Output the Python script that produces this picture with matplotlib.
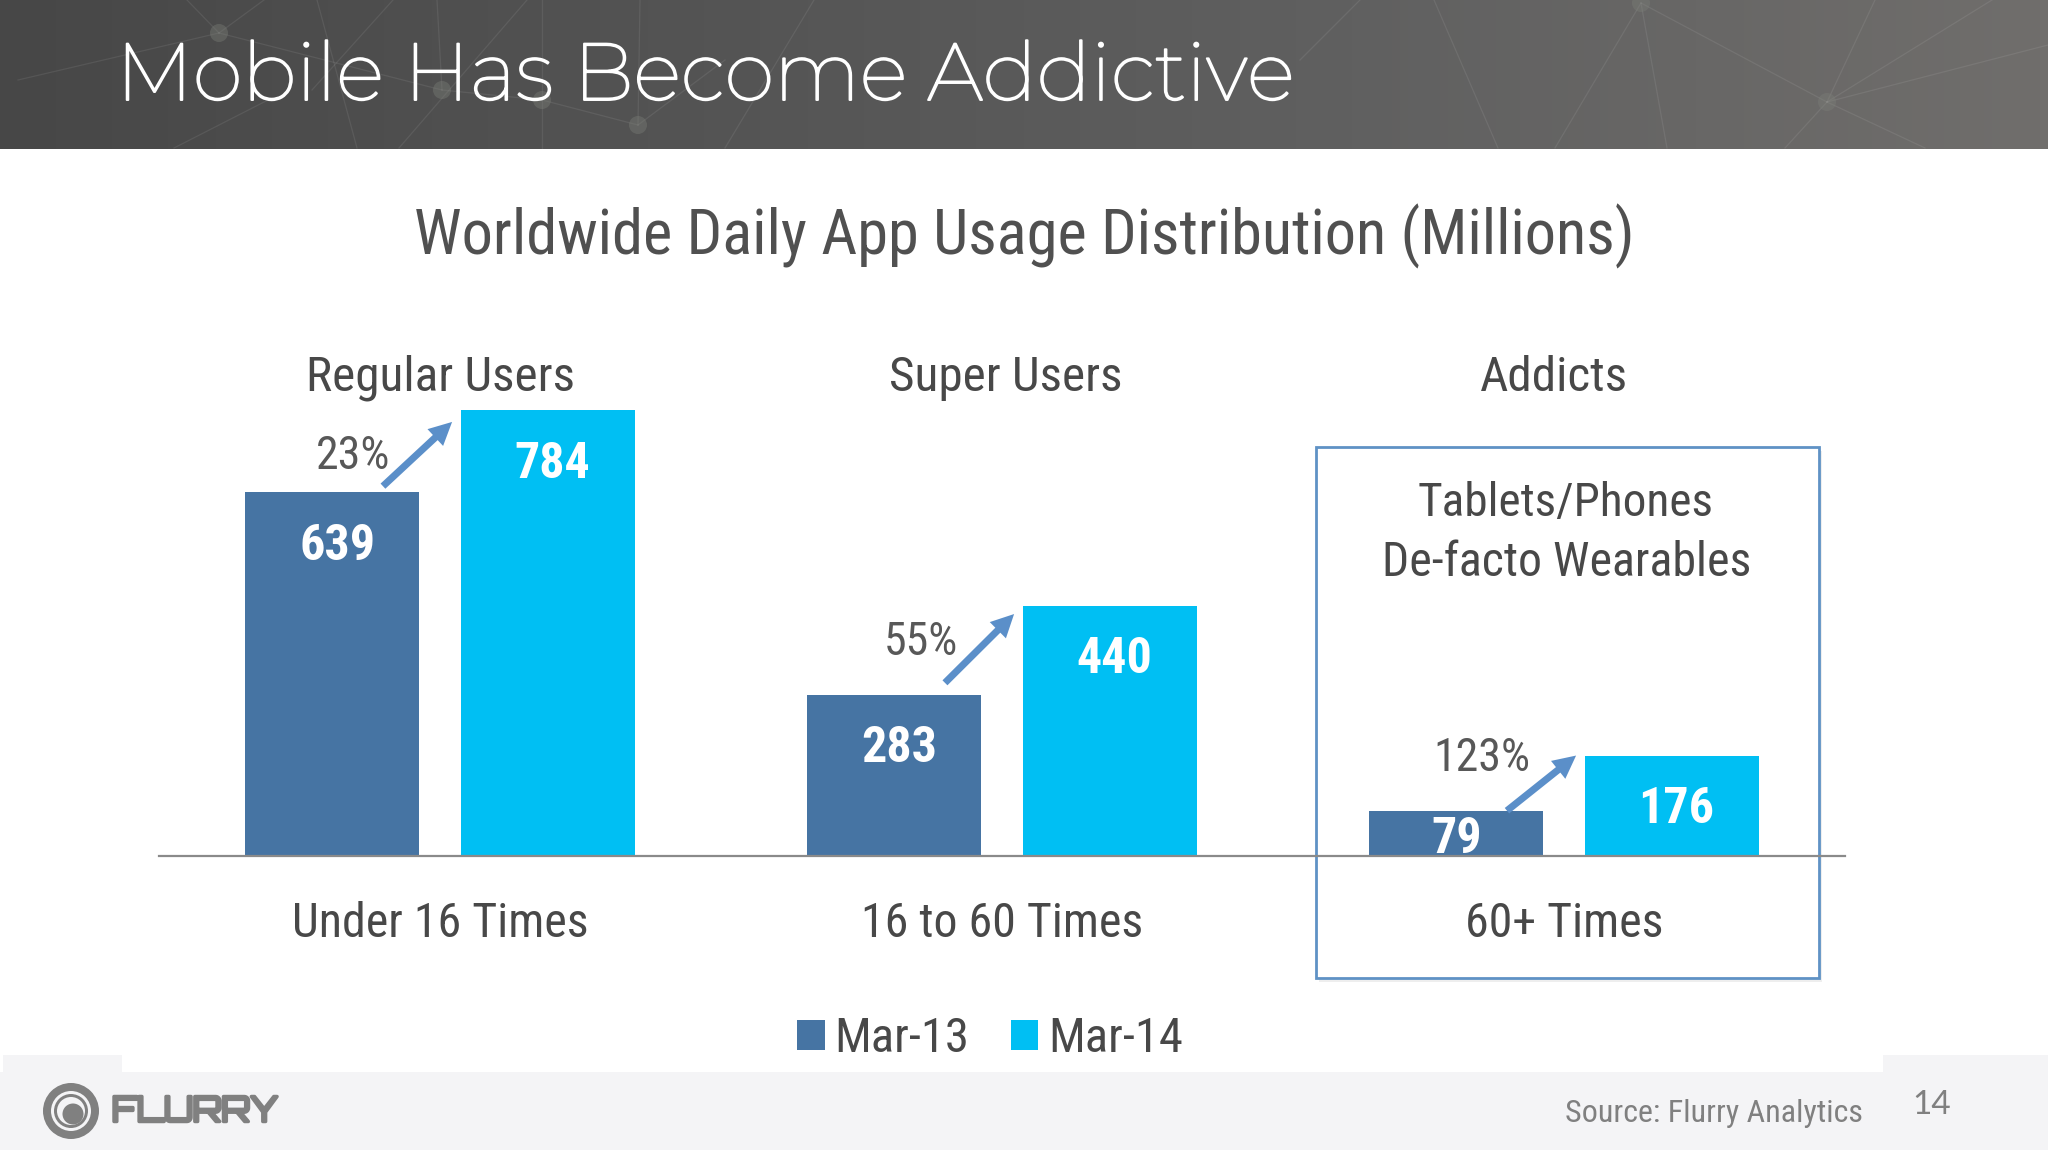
import numpy as np
import matplotlib
matplotlib.use('Agg')
import matplotlib.pyplot as plt
import matplotlib.patheffects as pe
from matplotlib.colors import LinearSegmentedColormap
from matplotlib.patches import Rectangle, Circle

# values in millions
categories = ['Under 16 Times', '16 to 60 Times', '60+ Times']
segments = ['Regular Users', 'Super Users', 'Addicts']
mar_13 = [639, 283, 79]
mar_14 = [784, 440, 176]
growth = ['23%', '55%', '123%']

W, H = 2048, 1152
NARROW = ['Roboto Condensed', 'Liberation Sans']
TITLE_FONT = ['Montserrat', 'Lato']
LOGO_FONT = ['Orbitron', 'DejaVu Sans']
DARK_BLUE = '#4674a3'
LIGHT_BLUE = '#00bff3'
ARROW_BLUE = '#5b8fc9'
TEXT = '#484848'

fig = plt.figure(figsize=(W / 100, H / 100), dpi=100, facecolor='white')

# page layer in pixel coordinates, for the slide furniture
page = fig.add_axes([0, 0, 1, 1])
grad = np.linspace(0, 1, 256).reshape(1, -1)
page.imshow(grad, extent=(0, W, 149, 0), aspect='auto', zorder=0,
            cmap=LinearSegmentedColormap.from_list('hdr', [(0, '#474747'), (0.66, '#606060'), (1, '#706e6c')]))
page.set_xlim(0, W)
page.set_ylim(H, 0)
page.axis('off')

# faint network pattern in the header
nodes = [(219, 33), (442, 90), (542, 100), (638, 125), (1641, 3), (1827, 102)]
links = [((219, 33), (442, 90)), ((442, 90), (542, 100)), ((542, 100), (638, 125)),
         ((219, 33), (264, 0)), ((219, 33), (187, 0)), ((219, 33), (18, 80)),
         ((437, 0), (442, 90)), ((542, 0), (542, 148)), ((640, 0), (638, 125)),
         ((527, 0), (399, 148)), ((317, 0), (357, 148)), ((393, 0), (312, 90)),
         ((268, 100), (174, 148)), ((814, 0), (725, 148)), ((638, 125), (725, 60)),
         ((1641, 3), (1827, 102)), ((1641, 3), (1555, 148)), ((1641, 3), (1667, 148)),
         ((1434, 0), (1498, 148)), ((1360, 0), (1300, 60)), ((1827, 102), (1875, 0)),
         ((1827, 102), (1992, 0)), ((1827, 102), (2048, 45)), ((1827, 102), (1785, 148)),
         ((1827, 102), (1925, 148))]
for a, b in links:
    page.plot([a[0], b[0]], [a[1], b[1]], color='white', lw=0.9, alpha=0.08, zorder=1)
for n in nodes:
    page.add_patch(Circle(n, 9, color='#7c7f78', alpha=0.4, lw=0, zorder=1))

# the installed Montserrat renders very thin, a white stroke brings it to the slide's weight
page.text(116, 78, 'Mobile Has Become Addictive', color='white', fontsize=58,
          family=TITLE_FONT, va='center', ha='left', zorder=3,
          path_effects=[pe.withStroke(linewidth=1.4, foreground='white')])

# footer band
page.add_patch(Rectangle((0, 1072), W, 78, color='#f4f4f6', lw=0, zorder=0))
page.add_patch(Rectangle((3, 1055), 119, 20, color='#f4f4f6', lw=0, zorder=0))
page.add_patch(Rectangle((1883, 1055), 165, 20, color='#f4f4f6', lw=0, zorder=0))

# logo
for r, c in [(28, '#808080'), (20, '#f4f4f6'), (17, '#808080'), (14, '#f4f4f6')]:
    page.add_patch(Circle((71, 1111), r, color=c, lw=0, zorder=2))
page.add_patch(Circle((73, 1114), 10.5, color='#808080', lw=0, zorder=2))
page.text(112, 1112, 'FLURRY', color='#808080', fontsize=25, family=LOGO_FONT,
          va='center', ha='left', zorder=3,
          path_effects=[pe.withStroke(linewidth=2.5, foreground='#808080')])

page.text(1565, 1113, 'Source: Flurry Analytics', color='#808080', fontsize=23, family=NARROW, va='center')
page.text(1932, 1105, '14', color='#808080', fontsize=24, family=['Lato'], va='center', ha='center')

page.text(1024, 236, 'Worldwide Daily App Usage Distribution (Millions)', color='#505050', fontsize=45,
          family=NARROW, va='center', ha='center')

# highlight box around the addicts group
page.add_patch(Rectangle((1319, 451), 503, 531, fc='#e4e4e4', ec='none', alpha=0.6, zorder=1))
page.add_patch(Rectangle((1316, 447), 503, 531, fc='white', ec='#5f92c5', lw=2, zorder=2))
page.text(1566, 503, 'Tablets/Phones', color=TEXT, fontsize=34, family=NARROW, va='center', ha='center', zorder=3)
page.text(1567, 563, 'De-facto Wearables', color=TEXT, fontsize=34.5, family=NARROW, va='center', ha='center', zorder=3)

# chart layer, baseline at y=855.6 and 784 at y=410
left, right = 159, 1845
base, top = 855.6, 410.0
ax = fig.add_axes([left / W, 1 - base / H, (right - left) / W, (base - top) / H])
ax.patch.set_alpha(0)
ax.set_xlim(-0.5, 2.5)
ax.set_ylim(0, 784)

x = np.arange(len(categories))
bar_w = 0.31
off = 0.1915
b13 = ax.bar(x - off, mar_13, bar_w, color=DARK_BLUE, label='Mar-13', zorder=3)
b14 = ax.bar(x + off, mar_14, bar_w, color=LIGHT_BLUE, label='Mar-14', zorder=3)

for s in ['top', 'left', 'right']:
    ax.spines[s].set_visible(False)
ax.spines['bottom'].set_color('#8a8a8a')
ax.spines['bottom'].set_linewidth(1.6)
ax.spines['bottom'].set_zorder(5)
ax.set_yticks([])
ax.set_xticks(x)
ax.set_xticklabels(categories, fontsize=34.5, color=TEXT, family=NARROW)
ax.tick_params(axis='x', length=0, pad=33)

# value labels inside the bars
for i in x:
    tall = mar_13[i] > 100
    ax.annotate(str(mar_13[i]), (i - off, mar_13[i]), xytext=(5 if tall else 0, -54 if tall else -29),
                textcoords='offset pixels', color='white', fontsize=36, weight='bold', family=NARROW,
                ha='center', va='center', zorder=6)
    ax.annotate(str(mar_14[i]), (i + off, mar_14[i]), xytext=(5, -54), textcoords='offset pixels',
                color='white', fontsize=36, weight='bold', family=NARROW, ha='center', va='center', zorder=6)

# growth arrows and percentages
tail_dy = [11, 21, 0]
head_dy = [21, 15, 0]
for i in x:
    ax.annotate('', xy=(i + off - 0.17, mar_14[i] - head_dy[i]),
                xytext=(i - off + 0.09, mar_13[i] + tail_dy[i]), zorder=6,
                arrowprops=dict(arrowstyle='simple,head_length=0.75,head_width=0.75,tail_width=0.23',
                                mutation_scale=22, color=ARROW_BLUE, lw=0, shrinkA=0, shrinkB=0))
pct_x = [353, 921, 1482]
pct_y = [456, 642, 758]
for i in x:
    page.text(pct_x[i], pct_y[i], growth[i], color='#585858', fontsize=33, family=NARROW, va='center', ha='center', zorder=3)

# segment names above the bars
seg_x = [440, 1006, 1554]
for i in x:
    page.text(seg_x[i], 378, segments[i], color=TEXT, fontsize=35.5, family=NARROW, va='center', ha='center', zorder=3)

ax.legend(handles=[b13, b14], loc='center', bbox_to_anchor=(990 / W, 1 - 1039 / H),
          bbox_transform=fig.transFigure, ncol=2, frameon=False,
          handlelength=0.57, handleheight=0.57, handletextpad=0.2, columnspacing=0.85,
          labelcolor=TEXT, prop=dict(family=NARROW, size=35))

fig.savefig('out.png', dpi=100)
